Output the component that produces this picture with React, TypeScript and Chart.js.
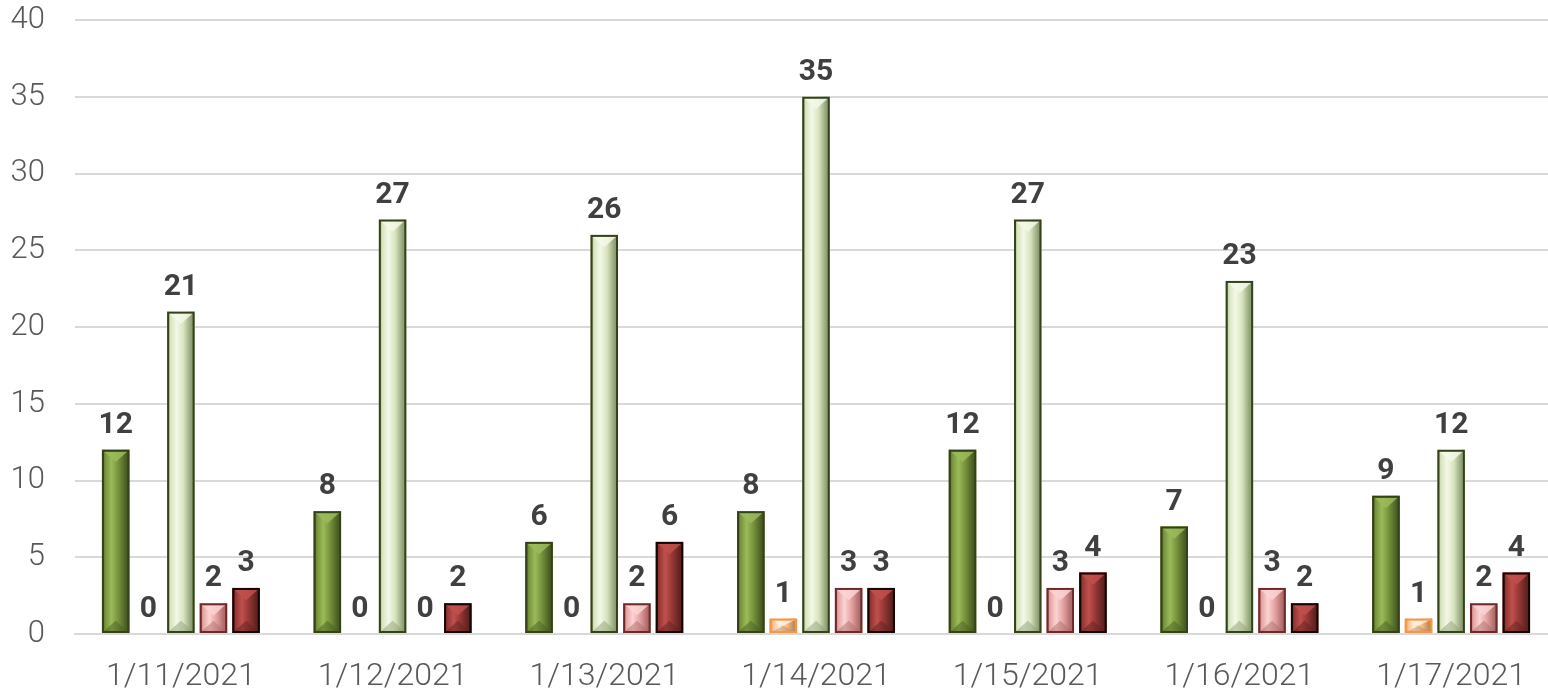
import React, { useEffect, useRef } from "react";
import { Chart, registerables } from "chart.js";

Chart.register(...registerables);

const categories = ["1/11/2021", "1/12/2021", "1/13/2021", "1/14/2021", "1/15/2021", "1/16/2021", "1/17/2021"];
const series1 = [12, 8, 6, 8, 12, 7, 9];
const series2 = [0, 0, 0, 1, 0, 0, 1];
const series3 = [21, 27, 26, 35, 27, 23, 12];
const series4 = [2, 0, 2, 3, 3, 3, 2];
const series5 = [3, 2, 6, 3, 4, 2, 4];
const yTicks = [0, 5, 10, 15, 20, 25, 30, 35, 40];

const palette = [
  { base: "#76923c", light: "#9bbb59", dark: "#4a5e24", border: "#34421a" },
  { base: "#fac090", light: "#fff0e0", dark: "#c08a5a", border: "#f79646" },
  { base: "#d7e4bd", light: "#f3f8e8", dark: "#8f9f76", border: "#34421a" },
  { base: "#e6a3a2", light: "#fad4d3", dark: "#ad6d6c", border: "#6e2a2a" },
  { base: "#953735", light: "#c0504d", dark: "#5e2220", border: "#150606" },
];

const bevelPlugin = {
  id: "bevel",
  afterDatasetsDraw(chart: any) {
    const ctx = chart.ctx;
    chart.data.datasets.forEach((ds: any, di: number) => {
      const meta = chart.getDatasetMeta(di);
      const col = palette[di];
      meta.data.forEach((el: any, i: number) => {
        const v = ds.data[i];
        const p = el.getProps(["x", "y", "base", "width"], true);
        const l = p.x - p.width / 2;
        const r = p.x + p.width / 2;
        const t = Math.min(p.y, p.base);
        const b = Math.max(p.y, p.base);
        const h = b - t;
        if (v > 0 && h > 0) {
          ctx.save();
          const g = ctx.createLinearGradient(l, 0, r, 0);
          g.addColorStop(0, col.dark);
          g.addColorStop(0.12, col.base);
          g.addColorStop(0.35, col.light);
          g.addColorStop(0.6, col.base);
          g.addColorStop(0.88, col.dark);
          g.addColorStop(1, col.dark);
          ctx.fillStyle = g;
          ctx.fillRect(l, t, p.width, h);
          const d = Math.min(p.width * 0.45, h / 2);
          ctx.beginPath();
          ctx.moveTo(l, t);
          ctx.lineTo(r, t);
          ctx.lineTo(p.x, t + d);
          ctx.closePath();
          ctx.globalAlpha = 0.85;
          ctx.fillStyle = col.light;
          ctx.fill();
          ctx.beginPath();
          ctx.moveTo(l, b);
          ctx.lineTo(r, b);
          ctx.lineTo(p.x, b - d);
          ctx.closePath();
          ctx.globalAlpha = 0.5;
          ctx.fillStyle = col.dark;
          ctx.fill();
          ctx.globalAlpha = 1;
          ctx.lineWidth = 2;
          ctx.strokeStyle = col.border;
          ctx.strokeRect(l + 1, t + 1, p.width - 2, h - 2);
          ctx.restore();
        }
        ctx.save();
        ctx.font = "bold 30px Roboto";
        ctx.fillStyle = "#404040";
        ctx.textAlign = "center";
        ctx.textBaseline = "alphabetic";
        ctx.fillText(String(v), p.x, t - 17);
        ctx.restore();
      });
    });
  },
};

export default function App() {
  const canvasRef = useRef<HTMLCanvasElement | null>(null);

  useEffect(() => {
    document.body.style.margin = "0";
    document.body.style.overflow = "hidden";
    const canvas = canvasRef.current;
    if (!canvas) return;
    const all = [series1, series2, series3, series4, series5];
    const chart = new Chart(canvas, {
      type: "bar",
      data: {
        labels: categories,
        datasets: all.map((d, i) => ({
          label: "Series " + (i + 1),
          data: d,
          backgroundColor: palette[i].base,
          borderWidth: 0,
          categoryPercentage: 0.77,
          barPercentage: 0.84,
        })),
      },
      options: {
        responsive: true,
        maintainAspectRatio: false,
        animation: false,
        layout: { padding: { top: 20, right: 0, left: 0, bottom: 0 } },
        plugins: {
          legend: { display: false },
          tooltip: { enabled: false },
        },
        scales: {
          x: {
            grid: { display: false },
            border: { display: true, color: "#d9d9d9", width: 2 },
            ticks: {
              color: "#595959",
              font: { family: "Roboto", size: 32, weight: "300" },
              padding: 16,
            },
            afterFit: (s: any) => {
              s.height = 57;
              s.paddingLeft = 0;
              s.paddingRight = 0;
            },
          },
          y: {
            min: 0,
            max: 40,
            afterBuildTicks: (s: any) => {
              s.ticks = yTicks.map((v) => ({ value: v }));
            },
            grid: { color: "#d9d9d9", lineWidth: 2, drawTicks: false },
            border: { display: false },
            ticks: {
              color: "#595959",
              font: { family: "Roboto", size: 31, weight: "300" },
              padding: 30,
            },
            afterFit: (s: any) => {
              s.width = 75;
              s.paddingTop = 0;
              s.paddingBottom = 0;
            },
          },
        },
      },
      plugins: [bevelPlugin],
    });
    return () => chart.destroy();
  }, []);

  return (
    <div style={{ position: "relative", width: 1548, height: 691, overflow: "hidden" }}>
      <div style={{ position: "relative", width: 1557, height: 691 }}>
        <canvas ref={canvasRef} />
      </div>
    </div>
  );
}
